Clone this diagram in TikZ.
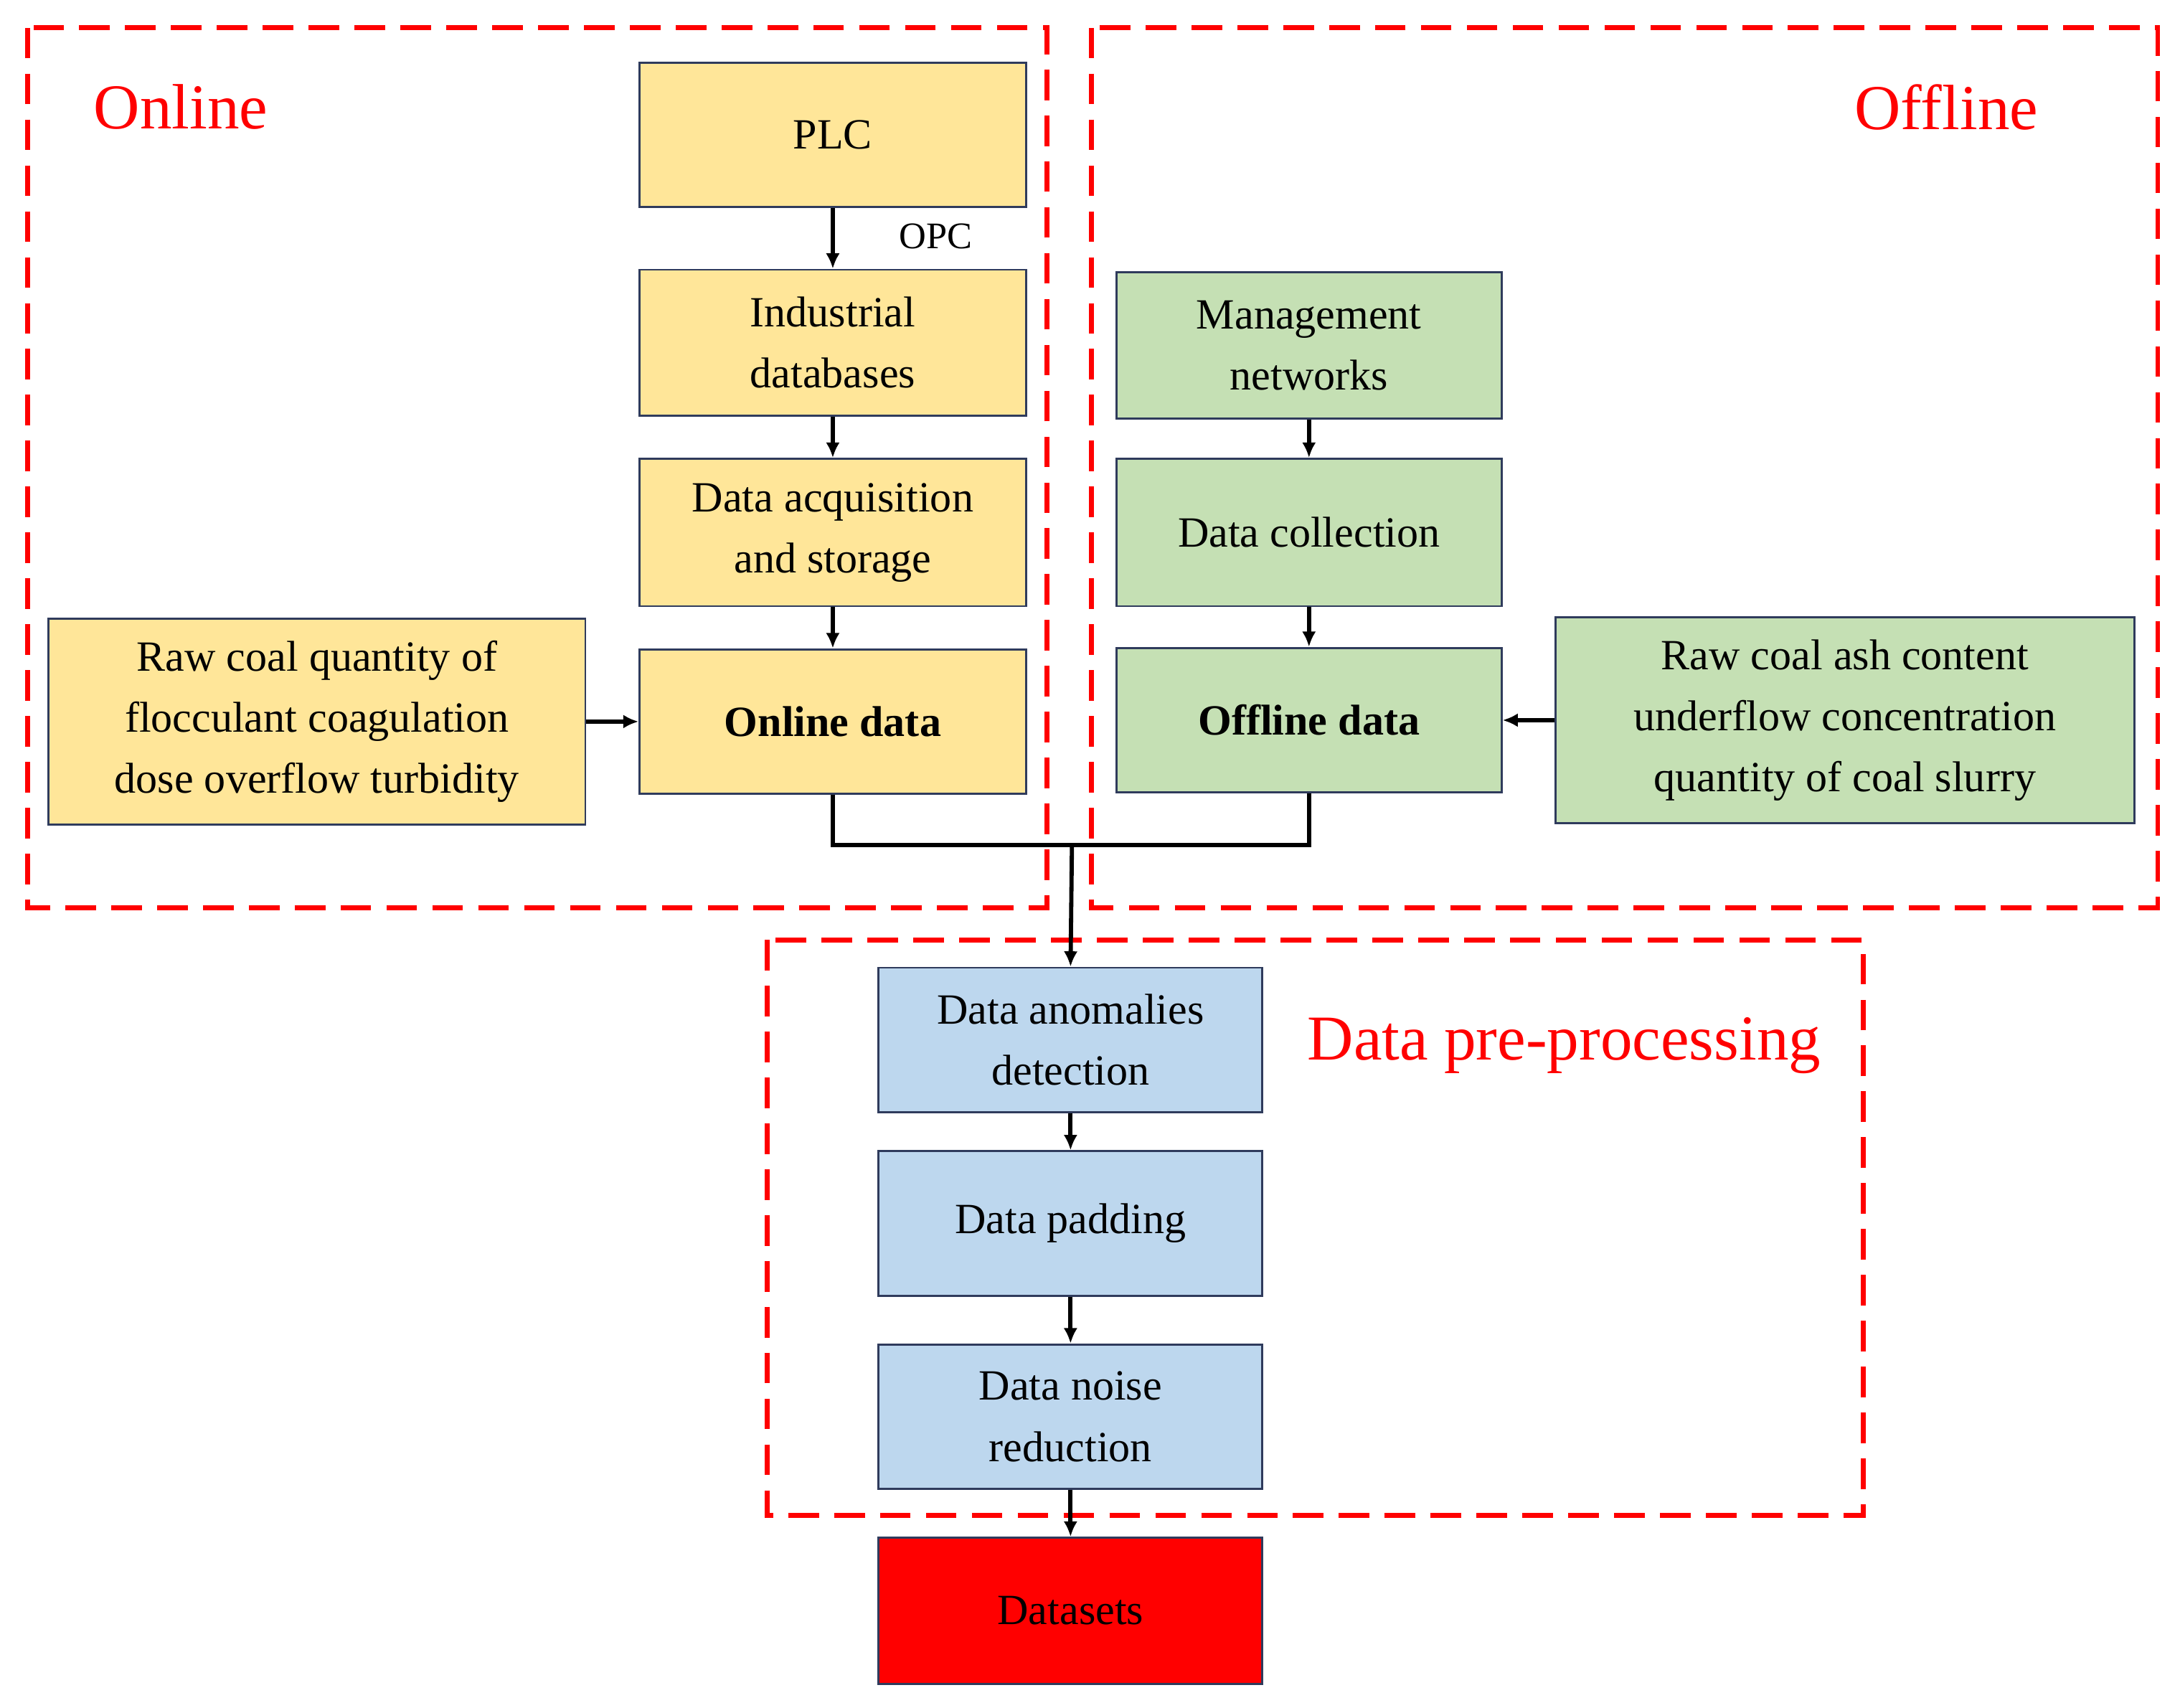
\documentclass[tikz,border=0pt]{standalone}
\usepackage{fontspec}
\setmainfont{Liberation Serif}
\usetikzlibrary{arrows.meta}
\definecolor{yel}{HTML}{FFE699}
\definecolor{grn}{HTML}{C5E0B4}
\definecolor{blu}{HTML}{BDD7EE}
\definecolor{edg}{HTML}{2F3B5C}
\begin{document}
\begin{tikzpicture}[x=1pt,y=-1pt,
 box/.style={draw=edg,line width=1.5pt,inner sep=0pt,align=center,font=\fontsize{31}{44}\selectfont},
 grp/.style={draw=red,line width=3.5pt,dash pattern=on 22pt off 11pt},
 lab/.style={text=red,font=\fontsize{46}{50}\selectfont},
 arr/.style={line width=3pt,-{Latex[length=11pt,width=10pt]}}]
\useasboundingbox (0,0) rectangle (1568,1228);
\draw[grp] (20,20) rectangle (753,653);
\draw[grp] (785,20) rectangle (1552,653);
\draw[grp] (552,676) rectangle (1340,1090);
\node[lab] (lon) at (130,77) {Online};
\node[lab] (loff) at (1400,77) {Offline};
\node[lab] (lpre) at (1125,752) {Data pre-processing};
\newcommand{\bx}[7]{\node[box,fill=#6,minimum width=#4-#2,minimum height=#5-#3] (#1) at ({(#2+#4)/2},{(#3+#5)/2}) {#7};}
\bx{plc}{460}{45}{738}{149}{yel}{PLC}
\bx{ind}{460}{194}{738}{299}{yel}{Industrial\\databases}
\bx{acq}{460}{330}{738}{436}{yel}{Data acquisition\\and storage}
\bx{ond}{460}{467}{738}{571}{yel}{\textbf{Online data}}
\bx{rawl}{35}{445}{421}{593}{yel}{Raw coal quantity of\\flocculant coagulation\\dose overflow turbidity}
\bx{man}{803}{196}{1080}{301}{grn}{Management\\networks}
\bx{col}{803}{330}{1080}{436}{grn}{Data collection}
\bx{ofd}{803}{466}{1080}{570}{grn}{\textbf{Offline data}}
\bx{rawr}{1119}{444}{1535}{592}{grn}{Raw coal ash content\\underflow concentration\\quantity of coal slurry}
\bx{ano}{632}{696}{908}{800}{blu}{Data anomalies\\detection}
\bx{pad}{632}{828}{908}{932}{blu}{Data padding}
\bx{noi}{632}{967}{908}{1071}{blu}{Data noise\\reduction}
\bx{dat}{632}{1106}{908}{1211}{red}{Datasets}
\node[font=\fontsize{27}{30}\selectfont] (opc) at (673,170) {OPC};
\draw[arr] (plc) -- (ind);
\draw[arr] (ind) -- (acq);
\draw[arr] (acq) -- (ond);
\draw[arr] (rawl) -- (ond);
\draw[arr] (man) -- (col);
\draw[arr] (col) -- (ofd);
\draw[arr] (rawr) -- (ofd);
\coordinate (j) at (771,608);
\draw[line width=3pt] (ond.south) |- (j) -| (ofd.south);
\draw[arr] (j) -- (ano.north);
\draw[arr] (ano) -- (pad);
\draw[arr] (pad) -- (noi);
\draw[arr] (noi) -- (dat);
\end{tikzpicture}
\end{document}
